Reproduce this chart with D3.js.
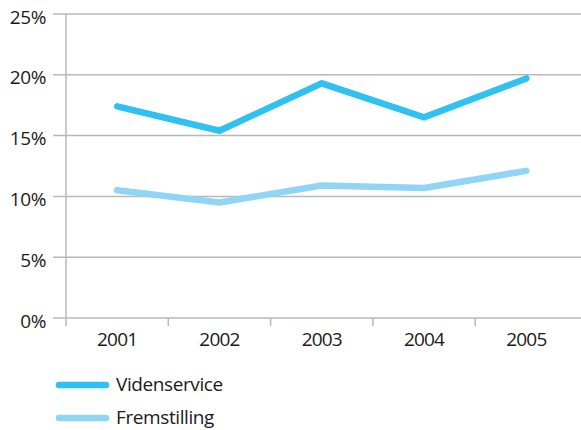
<!DOCTYPE html>
<html>
<head>
<meta charset="utf-8">
<script src="https://cdn.jsdelivr.net/npm/d3@7"></script>
<style>
  html, body { margin: 0; padding: 0; background: #fff; }
  svg text { font-family: "Open Sans", "Noto Sans", sans-serif; fill: #1a1a1a; }
</style>
</head>
<body>
<svg id="chart" width="581" height="430"></svg>
<script>
// Share of firms per year, by sector
const years = ["2001", "2002", "2003", "2004", "2005"];
const videnservice = [17.4, 15.4, 19.3, 16.5, 19.7];
const fremstilling = [10.5, 9.5, 10.9, 10.7, 12.1];
const seriesNames = ["Videnservice", "Fremstilling"];
const seriesColors = ["#2ec1f1", "#90d5f5"];
const yTicks = [0, 5, 10, 15, 20, 25];

const series = [
  { name: seriesNames[0], values: videnservice, color: seriesColors[0] },
  { name: seriesNames[1], values: fremstilling, color: seriesColors[1] }
];

const svg = d3.select("#chart");
const plotLeft = 66, plotRight = 577.5, plotTop = 14, plotBottom = 318;

const x = d3.scaleBand().domain(years).range([plotLeft, plotRight]);
const y = d3.scaleLinear().domain([0, 25]).range([plotBottom, plotTop]);

// horizontal gridlines
svg.append("g")
  .selectAll("line")
  .data(yTicks)
  .join("line")
  .attr("x1", 53).attr("x2", 581)
  .attr("y1", d => y(d)).attr("y2", d => y(d))
  .attr("stroke", "#b8b8b8").attr("stroke-width", 1.5);

// vertical axis line
svg.append("line")
  .attr("x1", plotLeft).attr("x2", plotLeft)
  .attr("y1", plotTop).attr("y2", plotBottom + 8)
  .attr("stroke", "#b8b8b8").attr("stroke-width", 1.5);

// y tick labels
svg.append("g")
  .selectAll("text")
  .data(yTicks)
  .join("text")
  .attr("x", 46)
  .attr("y", d => y(d))
  .attr("dy", "0.5em")
  .attr("text-anchor", "end")
  .attr("font-size", 19)
  .attr("letter-spacing", -0.4)
  .text(d => d + "%");

// x category labels
const xAxis = d3.axisBottom(x).tickSize(0).tickFormat(d => d);
const gx = svg.append("g").attr("transform", `translate(0,${plotBottom})`).call(xAxis);
gx.select(".domain").remove();
gx.selectAll("text")
  .attr("y", 15)
  .attr("font-size", 19)
  .attr("letter-spacing", -0.8)
  .attr("font-family", "\"Open Sans\", \"Noto Sans\", sans-serif")
  .attr("fill", "#1a1a1a");

// x tick marks at band boundaries
svg.append("g")
  .selectAll("line")
  .data(years.slice(1))
  .join("line")
  .attr("x1", d => x(d)).attr("x2", d => x(d))
  .attr("y1", plotBottom).attr("y2", plotBottom + 8)
  .attr("stroke", "#b8b8b8").attr("stroke-width", 1.5);

// series lines
const line = d3.line()
  .x((d, i) => x(years[i]) + x.bandwidth() / 2)
  .y(d => y(d));

svg.append("g")
  .selectAll("path")
  .data(series)
  .join("path")
  .attr("d", d => line(d.values))
  .attr("fill", "none")
  .attr("stroke", d => d.color)
  .attr("stroke-width", 6.5)
  .attr("stroke-linecap", "round")
  .attr("stroke-linejoin", "miter");

// legend
const legend = svg.append("g")
  .selectAll("g")
  .data(series)
  .join("g")
  .attr("transform", (d, i) => `translate(0,${385 + i * 33})`);

legend.append("line")
  .attr("x1", 59).attr("x2", 106)
  .attr("stroke", d => d.color)
  .attr("stroke-width", 6.5)
  .attr("stroke-linecap", "round");

legend.append("text")
  .attr("x", 116)
  .attr("dy", "0.3em")
  .attr("font-size", 19)
  .attr("letter-spacing", -0.4)
  .text(d => d.name);
</script>
</body>
</html>
